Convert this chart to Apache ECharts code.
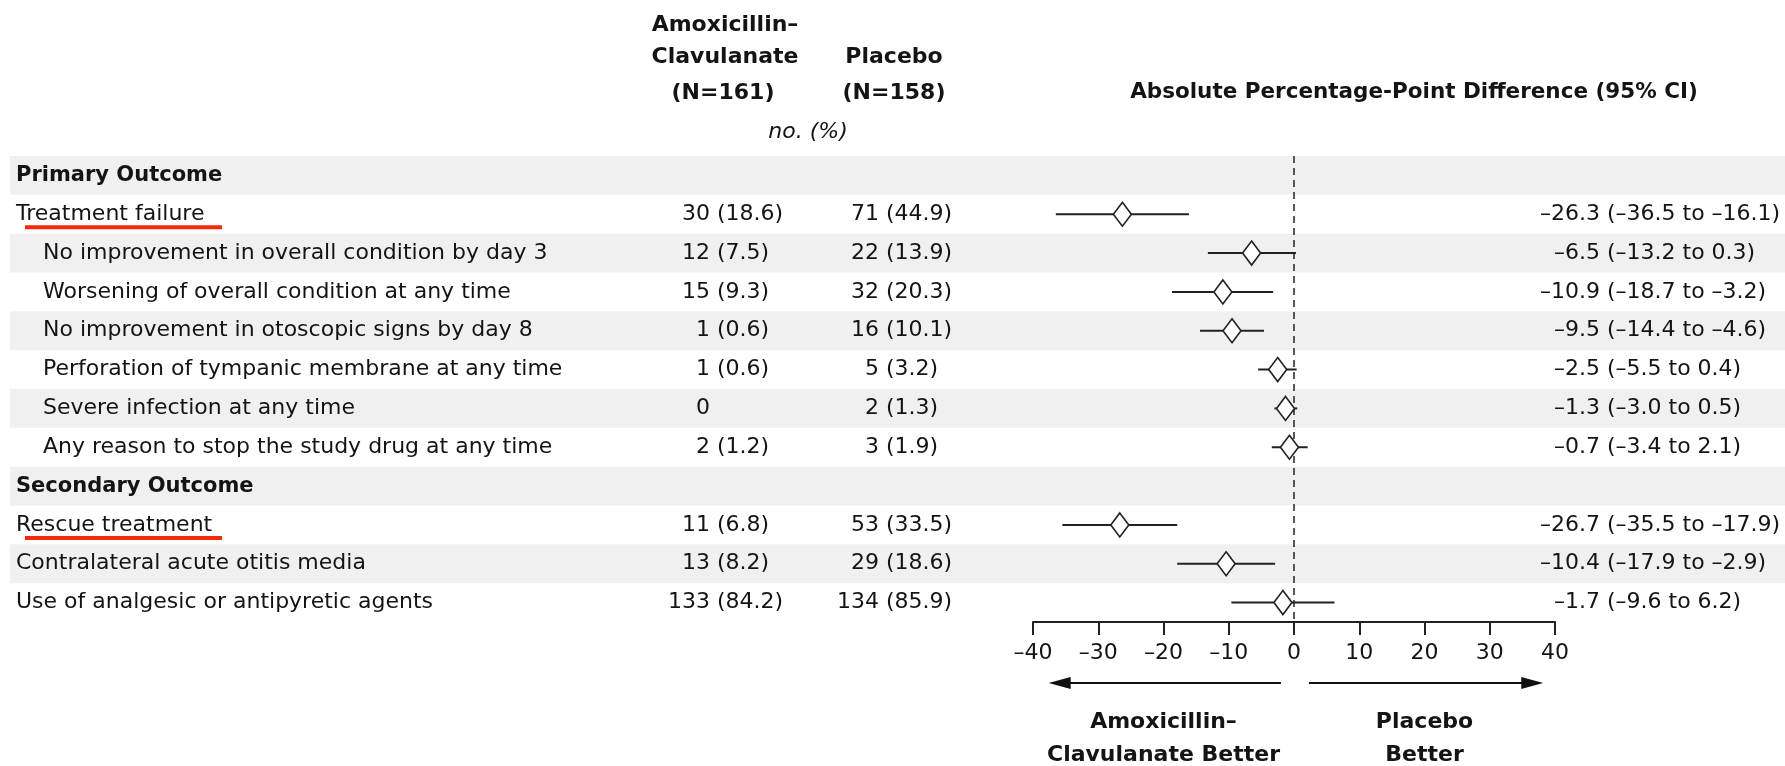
<!DOCTYPE html>
<html>
<head>
<meta charset="utf-8">
<script src="https://cdn.jsdelivr.net/npm/echarts@6/dist/echarts.min.js"></script>
<style>
  html, body { margin: 0; padding: 0; background: #fff; }
  #main { width: 1785px; height: 766px; }
</style>
</head>
<body>
<div id="main"></div>
<script>
// rows of the table, top to bottom
const rowLabels = [
  'Primary Outcome',
  'Treatment failure',
  'No improvement in overall condition by day 3',
  'Worsening of overall condition at any time',
  'No improvement in otoscopic signs by day 8',
  'Perforation of tympanic membrane at any time',
  'Severe infection at any time',
  'Any reason to stop the study drug at any time',
  'Secondary Outcome',
  'Rescue treatment',
  'Contralateral acute otitis media',
  'Use of analgesic or antipyretic agents'
];
const rowKind = ['head', 'main', 'sub', 'sub', 'sub', 'sub', 'sub', 'sub', 'head', 'main', 'main', 'main'];
const shaded = [1, 0, 1, 0, 1, 0, 1, 0, 1, 0, 1, 0];
const underlined = [0, 1, 0, 0, 0, 0, 0, 0, 0, 1, 0, 0];

// no. (%)
const amoxN   = [null, 30, 12, 15, 1, 1, 0, 2, null, 11, 13, 133];
const amoxPct = [null, 18.6, 7.5, 9.3, 0.6, 0.6, null, 1.2, null, 6.8, 8.2, 84.2];
const placN   = [null, 71, 22, 32, 16, 5, 2, 3, null, 53, 29, 134];
const placPct = [null, 44.9, 13.9, 20.3, 10.1, 3.2, 1.3, 1.9, null, 33.5, 18.6, 85.9];

// absolute percentage-point difference (95% CI)
const diff  = [null, -26.3, -6.5, -10.9, -9.5, -2.5, -1.3, -0.7, null, -26.7, -10.4, -1.7];
const ciLow = [null, -36.5, -13.2, -18.7, -14.4, -5.5, -3.0, -3.4, null, -35.5, -17.9, -9.6];
const ciHigh = [null, -16.1, 0.3, -3.2, -4.6, 0.4, 0.5, 2.1, null, -17.9, -2.9, 6.2];

const FONT = '"DejaVu Sans"';
const INK = '#141414';
const L = { labelX: 16, subX: 43, amoxX: 710, placX: 879, gap: 7, ciX: 1540 };

const fmt = v => v.toFixed(1).replace('-', '\u2013');
function ciText(i) {
  const pad = Math.abs(diff[i]) < 10 ? '\u2007' : '';
  return pad + fmt(diff[i]) + ' (' + fmt(ciLow[i]) + ' to ' + fmt(ciHigh[i]) + ')';
}
function txt(x, y, s, align, bold) {
  return {
    type: 'text',
    style: {
      x: x, y: y, text: s, textAlign: align, textVerticalAlign: 'middle',
      font: (bold ? 'bold 21px ' : '22px ') + FONT, fill: INK
    }
  };
}

function renderRow(params, api) {
  const i = api.value(1);
  const y = api.coord([0, i])[1];
  const kids = [];
  kids.push(txt(rowKind[i] === 'sub' ? L.subX : L.labelX, y, rowLabels[i], 'left', rowKind[i] === 'head'));
  if (amoxN[i] != null) {
    kids.push(txt(L.amoxX, y, String(amoxN[i]), 'right'));
    if (amoxPct[i] != null) kids.push(txt(L.amoxX + L.gap, y, '(' + amoxPct[i].toFixed(1) + ')', 'left'));
  }
  if (placN[i] != null) {
    kids.push(txt(L.placX, y, String(placN[i]), 'right'));
    if (placPct[i] != null) kids.push(txt(L.placX + L.gap, y, '(' + placPct[i].toFixed(1) + ')', 'left'));
  }
  if (diff[i] != null) kids.push(txt(L.ciX, y, ciText(i), 'left'));
  if (underlined[i]) {
    kids.push({ type: 'rect', shape: { x: 25, y: y + 11, width: 197, height: 4 }, style: { fill: '#f52a0c' } });
  }
  return { type: 'group', children: kids };
}

function renderCI(params, api) {
  const row = api.value(1);
  const c = api.coord([api.value(0), row]);
  const lo = api.coord([api.value(2), row]);
  const hi = api.coord([api.value(3), row]);
  const w = 9, h = 12;
  return {
    type: 'group',
    children: [
      { type: 'line', shape: { x1: lo[0], y1: c[1], x2: hi[0], y2: c[1] }, style: { stroke: '#222', lineWidth: 2 } },
      { type: 'polygon', shape: { points: [[c[0], c[1] - h], [c[0] + w, c[1]], [c[0], c[1] + h], [c[0] - w, c[1]]] },
        style: { fill: '#fff', stroke: '#222', lineWidth: 1.6 } }
    ]
  };
}

const forestData = [];
diff.forEach((d, i) => { if (d != null) forestData.push([d, i, ciLow[i], ciHigh[i]]); });

const chart = echarts.init(document.getElementById('main'));
chart.setOption({
  animation: false,
  grid: [
    { left: 10, right: 0, top: 156, height: 466 },
    { left: 1033, width: 522, top: 156, height: 466 }
  ],
  xAxis: [
    { gridIndex: 0, type: 'value', min: 0, max: 1, show: false },
    {
      gridIndex: 1, type: 'value', min: -40, max: 40, interval: 10,
      splitLine: { show: false },
      axisLine: { show: true, onZero: false, lineStyle: { color: '#222', width: 2 } },
      axisTick: { show: true, length: 13, lineStyle: { color: '#222', width: 2 } },
      axisLabel: {
        margin: 20, fontSize: 22, fontFamily: FONT, color: INK,
        formatter: v => String(v).replace('-', '\u2013')
      }
    }
  ],
  yAxis: [
    { gridIndex: 0, type: 'category', data: rowLabels, inverse: true, show: false },
    { gridIndex: 1, type: 'category', data: rowLabels, inverse: true, show: false }
  ],
  series: [
    {
      type: 'bar', xAxisIndex: 0, yAxisIndex: 0, silent: true, z: 0,
      data: shaded, barWidth: '100%', itemStyle: { color: '#f0f0f0' }
    },
    {
      type: 'custom', xAxisIndex: 0, yAxisIndex: 0, silent: true, z: 3,
      data: rowLabels.map((_, i) => [0, i]), encode: { x: 0, y: 1 },
      renderItem: renderRow
    },
    {
      type: 'custom', xAxisIndex: 1, yAxisIndex: 1, silent: true, z: 5,
      data: forestData, encode: { x: 0, y: 1 },
      renderItem: renderCI,
      markLine: {
        silent: true, symbol: 'none', label: { show: false },
        lineStyle: { color: '#222', width: 1.5, type: [7, 5] },
        data: [{ xAxis: 0 }]
      }
    }
  ]
});

// headers, arrows and the "better" captions, placed from the difference axis
const px = v => chart.convertToPixel({ xAxisIndex: 1 }, v);
function head(x, y, s, font) {
  return {
    type: 'text', x: x, y: y,
    style: { text: s, textAlign: 'center', textVerticalAlign: 'middle', font: font || 'bold 22px ' + FONT, fill: INK }
  };
}
const arrowY = 683;
const leftTip = px(-37.6), rightTip = px(38.2);
chart.setOption({
  graphic: [
    head(725, 25, 'Amoxicillin\u2013'),
    head(725, 57, 'Clavulanate'),
    head(723, 93, '(N=161)'),
    head(894, 57, 'Placebo'),
    head(894, 93, '(N=158)'),
    head(808, 132, 'no. (%)', 'italic 22px ' + FONT),
    head(1414, 92, 'Absolute Percentage-Point Difference (95% CI)', 'bold 21.5px ' + FONT),
    { type: 'line', shape: { x1: px(-2), y1: arrowY, x2: leftTip + 10, y2: arrowY }, style: { stroke: '#111', lineWidth: 2 } },
    { type: 'polygon', shape: { points: [[leftTip, arrowY], [leftTip + 22, arrowY - 6], [leftTip + 22, arrowY + 6]] }, style: { fill: '#111' } },
    { type: 'line', shape: { x1: px(2.3), y1: arrowY, x2: rightTip - 10, y2: arrowY }, style: { stroke: '#111', lineWidth: 2 } },
    { type: 'polygon', shape: { points: [[rightTip, arrowY], [rightTip - 22, arrowY - 6], [rightTip - 22, arrowY + 6]] }, style: { fill: '#111' } },
    head(px(-20), 722, 'Amoxicillin\u2013'),
    head(px(-20), 755, 'Clavulanate Better'),
    head(px(20), 722, 'Placebo'),
    head(px(20), 755, 'Better')
  ]
});
</script>
</body>
</html>
